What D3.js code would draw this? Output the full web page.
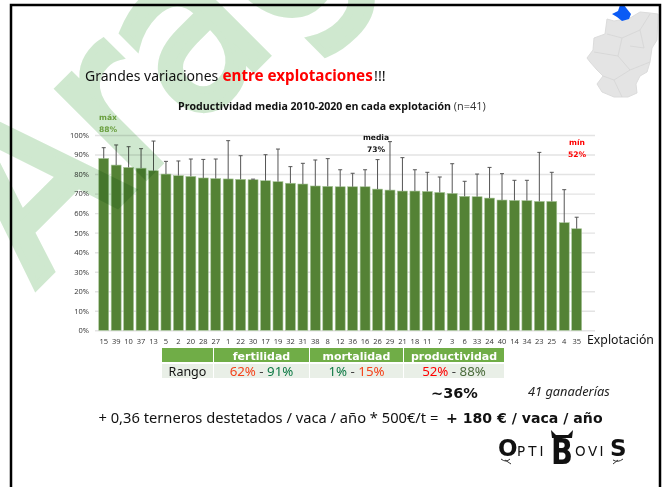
<!DOCTYPE html>
<html>
<head>
<meta charset="utf-8">
<script src="https://cdn.jsdelivr.net/npm/d3@7"></script>
<style>
  html, body { margin: 0; padding: 0; background: #fff; }
  svg { display: block; }
  text { font-family: "Noto Sans", sans-serif; }
  .grid line { stroke: #e3e3e3; stroke-width: 1.4; }
  .grid path { display: none; }
  .axis path, .axis line { display: none; }
  .axis text { font-family: "Open Sans", sans-serif; fill: #333; font-size: 7.5px; }
</style>
</head>
<body>
<svg id="chart" width="664" height="487"></svg>
<script>
const explotaciones = ["15","39","10","37","13","5","2","20","28","27","1","22","30","17","19","32","31","38","8","12","36","16","26","29","21","18","11","7","3","6","33","24","40","14","34","23","25","4","35"];
const productividad = [88,84.6,83.4,83,81.7,80,79.2,78.8,78,77.7,77.5,77.3,77.1,76.6,76.1,75.3,74.9,73.9,73.7,73.5,73.5,73.5,72.3,71.8,71.3,71.3,71.1,70.6,70.1,68.6,68.4,67.7,66.7,66.5,66.4,66,66,55.1,52];
const errorSup = [93.5,94.9,94,93,96.9,86.5,86.7,87.7,87.5,87.7,97.1,89.4,77.4,89.9,92.8,83.8,85.5,87.2,87.9,82.2,80.4,82.2,87.4,96.6,88.4,82.2,80.9,78.5,85.3,76.3,80,83.4,80.2,76.8,76.8,91.1,80.9,72,57.9];
const yTicks = [0,10,20,30,40,50,60,70,80,90,100];
const rangoCols = ["fertilidad","mortalidad","productividad"];
const rangoMin = ["62%","1%","52%"];
const rangoMax = ["91%","15%","88%"];

const svg = d3.select("#chart");

const x = d3.scaleBand().domain(explotaciones).range([97.5, 582.9]).paddingInner(0.2).paddingOuter(0.1);
const y = d3.scaleLinear().domain([0, 100]).range([330.3, 135]);

// gridlines
svg.append("g")
    .attr("class", "grid")
    .attr("transform", "translate(95,0)")
    .call(d3.axisLeft(y).tickValues(yTicks).tickSize(-500).tickFormat(""));

// bars
svg.append("g").selectAll("rect")
    .data(productividad)
    .enter().append("rect")
    .attr("x", (d, i) => x(explotaciones[i]))
    .attr("width", x.bandwidth())
    .attr("y", d => y(d))
    .attr("height", d => y(0) - y(d))
    .attr("fill", "#548235")
    .attr("stroke", "#a9c79a")
    .attr("stroke-width", 0.6);

// error bars, upper side only
let err = svg.append("g").attr("stroke", "#555").attr("stroke-width", 1);
productividad.forEach((d, i) => {
    let cx = x(explotaciones[i]) + x.bandwidth() / 2;
    err.append("line").attr("x1", cx).attr("x2", cx).attr("y1", y(d)).attr("y2", y(errorSup[i]));
    err.append("line").attr("x1", cx - 2).attr("x2", cx + 2).attr("y1", y(errorSup[i])).attr("y2", y(errorSup[i]));
});

// axes
svg.append("g")
    .attr("class", "axis")
    .attr("transform", "translate(92,0)")
    .call(d3.axisLeft(y).tickValues(yTicks).tickSize(0).tickFormat(d => d + "%"));
svg.append("g")
    .attr("class", "axis")
    .attr("transform", "translate(0,336)")
    .call(d3.axisBottom(x).tickSize(0));

// watermark
svg.append("text")
    .attr("transform", "translate(35,287) rotate(-45) scale(0.9,1)")
    .attr("font-size", 225)
    .style("font-family", "DejaVu Sans")
    .attr("fill", "#cfe8cf")
    .attr("stroke", "#cfe8cf")
    .attr("stroke-width", 8)
    .style("mix-blend-mode", "multiply")
    .text("Aragón");

// map of the region, rough outline
svg.append("path")
    .attr("d", "M607,19L614,21L630,18L640,12L650,13L658,14L657,40L652,48L650,62L647,72L640,76L636,84L637,93L628,97L614,97L602,92L597,84L603,76L597,70L590,62L587,58L593,50L594,38L605,34Z")
    .attr("fill", "#e4e4e4")
    .attr("stroke", "#dcdcdc");
svg.append("path")
    .attr("d", "M607,34L622,38L640,30L650,14M622,38L618,56L630,70L650,62M618,56L594,52M630,70L614,80L603,76M614,80L622,97M640,30L644,48L630,46")
    .attr("fill", "none")
    .attr("stroke", "#d2d2d2")
    .attr("stroke-width", 0.7);
svg.append("path")
    .attr("d", "M612,14L618,11L620,5L624,5L627,9L631,14L629,19L622,21L617,17Z")
    .attr("fill", "#0b5bf5");

// frame
svg.append("path")
    .attr("d", "M11,487V5H660V487")
    .attr("fill", "none")
    .attr("stroke", "#000")
    .attr("stroke-width", 2.5);

// headline
svg.append("text").attr("x", 85).attr("y", 81).attr("font-size", 14).attr("fill", "#111").text("Grandes variaciones");
svg.append("text").attr("x", 222.5).attr("y", 81).attr("font-size", 15.2).attr("font-weight", 700).attr("fill", "#f00").text("entre explotaciones");
svg.append("text").attr("x", 374).attr("y", 81).attr("font-size", 14.5).attr("fill", "#111").text("!!!");

// chart title
let title = svg.append("text").attr("x", 178).attr("y", 110).attr("font-size", 10.6).style("font-family", "Open Sans").attr("fill", "#111");
title.append("tspan").attr("font-weight", 700).text("Productividad media 2010-2020 en cada explotación");
title.append("tspan").attr("fill", "#333").attr("font-size", 11).text(" (n=41)");

// notes
function note(px, py, lines, color, anchor) {
    let t = svg.append("text").attr("font-size", 7.6).attr("font-weight", 700).style("font-family", "DejaVu Sans").attr("fill", color).attr("text-anchor", anchor);
    lines.forEach((l, i) => t.append("tspan").attr("x", px).attr("y", py + i * 12).text(l));
}
note(99, 120, ["máx", "88%"], "#6a9f3f", "start");
note(376, 140, ["media", "73%"], "#111", "middle");
note(577, 145, ["mín", "52%"], "#f00", "middle");

svg.append("text").attr("x", 587).attr("y", 344).attr("font-size", 12.3).attr("fill", "#111").text("Explotación");

// range table
const colX = d3.scaleOrdinal().domain(rangoCols).range([214, 310, 404]);
const colW = d3.scaleOrdinal().domain(rangoCols).range([95, 93, 100]);
svg.append("rect").attr("x", 162).attr("y", 348).attr("width", 51).attr("height", 14).attr("fill", "#70ad47");
svg.append("rect").attr("x", 162).attr("y", 364).attr("width", 51).attr("height", 14).attr("fill", "#e9efe7");
svg.append("text").attr("x", 187.5).attr("y", 376).attr("font-size", 12.5).attr("text-anchor", "middle").attr("fill", "#111").text("Rango");

rangoCols.forEach((c, i) => {
    svg.append("rect").attr("x", colX(c)).attr("y", 348).attr("width", colW(c)).attr("height", 14).attr("fill", "#70ad47");
    svg.append("rect").attr("x", colX(c)).attr("y", 364).attr("width", colW(c)).attr("height", 14).attr("fill", "#e9efe7");
    svg.append("text").attr("x", colX(c) + colW(c) / 2).attr("y", 359.5).attr("font-size", 11).attr("font-weight", 700)
        .style("font-family", "DejaVu Sans").attr("text-anchor", "middle").attr("fill", "#fff").text(c);
    let t = svg.append("text").attr("x", colX(c) + colW(c) / 2).attr("y", 376).attr("font-size", 13.3).attr("text-anchor", "middle");
    const minColor = ["#f4431c", "#f4431c", "#f00"];
    const maxColor = ["#0e7a45", "#0e7a45", "#4a6b3a"];
    // mortalidad reads best-to-worst, so its colours swap
    t.append("tspan").attr("fill", i == 1 ? maxColor[i] : minColor[i]).text(rangoMin[i]);
    t.append("tspan").attr("fill", "#444").text(" - ");
    t.append("tspan").attr("fill", i == 1 ? minColor[i] : maxColor[i]).text(rangoMax[i]);
});

// footer
svg.append("text").attr("x", 431).attr("y", 398).attr("font-size", 14.5).attr("font-weight", 700).style("font-family", "DejaVu Sans").attr("fill", "#111").text("~36%");
svg.append("text").attr("x", 528).attr("y", 396).attr("font-size", 12.8).attr("font-style", "italic").attr("fill", "#222").text("41 ganaderías");
svg.append("text").attr("x", 98.5).attr("y", 423).attr("font-size", 14.7).attr("fill", "#111").text("+ 0,36 terneros destetados / vaca / año * 500€/t =");
svg.append("text").attr("x", 446).attr("y", 423).attr("font-size", 14.1).attr("font-weight", 700).style("font-family", "DejaVu Sans").attr("fill", "#111").text("+ 180 € / vaca / año");

// logo
function logoPart(txt, px, size, weight, spacing) {
    svg.append("text").attr("x", px).attr("y", 456).attr("font-size", size).attr("font-weight", weight)
        .attr("letter-spacing", spacing).style("font-family", "DejaVu Sans").attr("fill", "#111").text(txt);
}
logoPart("O", 498, 23, 700, 0);
logoPart("PTI", 517, 13.5, 400, 3);
svg.append("text").attr("transform", "translate(551,464) scale(0.8,1)").attr("font-size", 36).attr("font-weight", 700)
    .style("font-family", "DejaVu Sans").attr("fill", "#111").text("B");
logoPart("OVI", 575, 13.5, 400, 2.5);
logoPart("S", 610, 23, 700, 0);
// horns on the B and the small curls under O and S
svg.append("path").attr("d", "M552,438L551,430L556,435H568L573,430L572,438Z").attr("fill", "#111");
svg.append("path").attr("d", "M501,459Q506,463 510,459M505,460L511,464M613,460Q618,463 623,459M613,464L618,460")
    .attr("fill", "none").attr("stroke", "#333").attr("stroke-width", 1);
</script>
</body>
</html>
